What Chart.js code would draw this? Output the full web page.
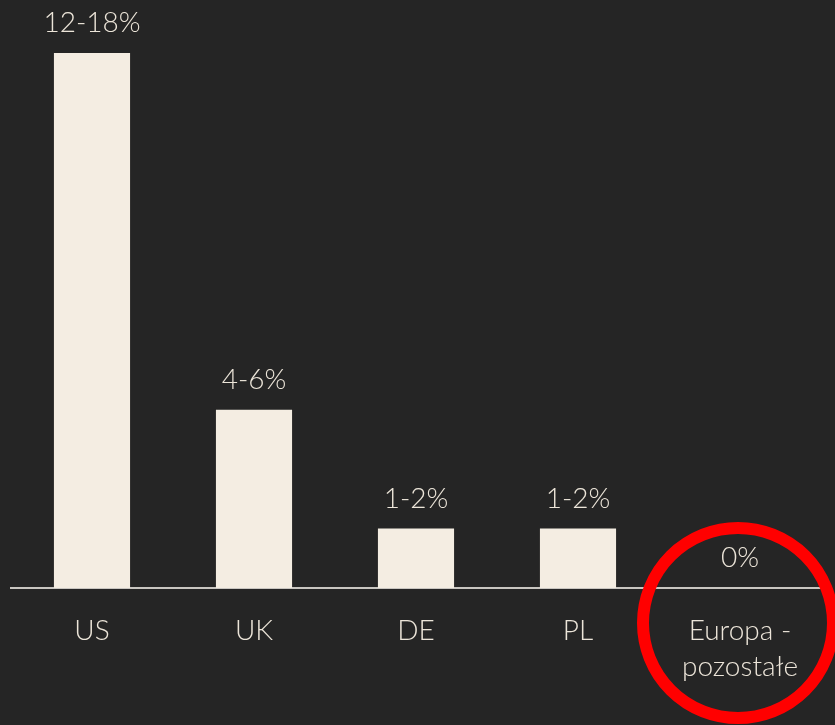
<!DOCTYPE html>
<html>
<head>
<meta charset="utf-8">
<script src="https://cdn.jsdelivr.net/npm/chart.js@4/dist/chart.umd.min.js"></script>
<style>
  html, body { margin: 0; padding: 0; background: #252525; }
  #wrap { width: 835px; height: 725px; position: relative; }
</style>
</head>
<body>
<div id="wrap"><canvas id="bar-chart"></canvas></div>
<script>
// categories and values (upper bound of each range drives bar height)
var countries = ['US', 'UK', 'DE', 'PL', ['Europa -', 'pozostałe']];
var upperBound = [18, 6, 2, 2, 0];
var rangeLabels = ['12-18%', '4-6%', '1-2%', '1-2%', '0%'];

var CREAM = '#f4ede2';
var TEXT = '#ece5d9';
var FONT = "Lato, 'Open Sans', sans-serif";

// value labels above bars
var topLabels = {
  id: 'topLabels',
  afterDatasetsDraw: function (chart) {
    var ctx = chart.ctx;
    var meta = chart.getDatasetMeta(0);
    ctx.save();
    ctx.fillStyle = TEXT;
    ctx.font = '300 28px ' + FONT;
    ctx.textAlign = 'center';
    ctx.textBaseline = 'middle';
    meta.data.forEach(function (bar, i) {
      ctx.fillText(rangeLabels[i], bar.x, bar.y - 30);
    });
    ctx.restore();
  }
};

// red circle around the last category
var circleMark = {
  id: 'circleMark',
  afterDraw: function (chart) {
    var ctx = chart.ctx;
    var x = chart.scales.x.getPixelForValue(4) - 2;
    var y = chart.chartArea.bottom + 35;
    ctx.save();
    ctx.strokeStyle = '#ff0000';
    ctx.lineWidth = 12;
    ctx.beginPath();
    ctx.arc(x, y, 95, 0, Math.PI * 2);
    ctx.stroke();
    ctx.restore();
  }
};

var chart = new Chart(document.getElementById('bar-chart'), {
  type: 'bar',
  data: {
    labels: countries,
    datasets: [{
      data: upperBound,
      backgroundColor: CREAM,
      borderWidth: 0,
      categoryPercentage: 1,
      barPercentage: 0.47,
    }],
  },
  options: {
    responsive: true,
    maintainAspectRatio: false,
    animation: false,
    layout: { padding: { top: 53, left: 11, right: 14, bottom: 0 } },
    plugins: {
      legend: { display: false },
      tooltip: { enabled: false },
    },
    scales: {
      y: {
        display: false,
        min: 0,
        max: 18,
      },
      x: {
        grid: { display: false, drawTicks: false },
        border: { display: true, color: '#c9c6c1', width: 2 },
        ticks: {
          color: TEXT,
          font: { size: 28, family: FONT, weight: '300', lineHeight: 1.32 },
          padding: 24,
          maxRotation: 0,
        },
        afterFit: function (scale) { scale.height = 137; },
      },
    },
  },
  plugins: [topLabels, circleMark],
});
</script>
</body>
</html>
